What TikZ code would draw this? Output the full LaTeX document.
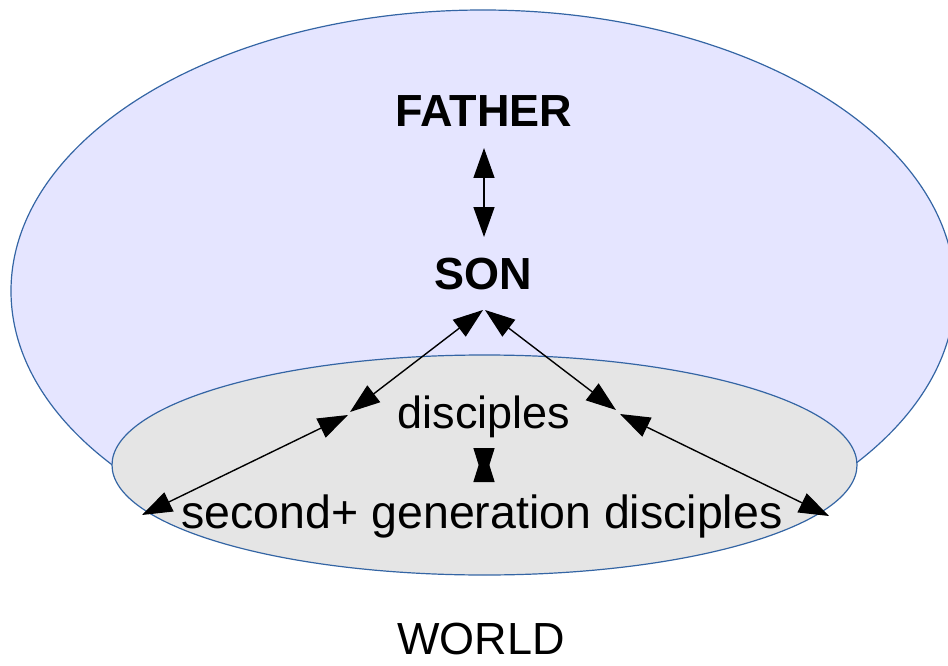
\documentclass[tikz,border=0pt]{standalone}
\usepackage{fontspec}
\setmainfont{Liberation Sans}
\usetikzlibrary{arrows.meta}
\definecolor{heaven}{HTML}{E5E5FF}
\definecolor{earth}{HTML}{E5E5E5}
\definecolor{rim}{HTML}{3465A4}
\begin{document}
\begin{tikzpicture}[x=1pt,y=-1pt,
  lbl/.style={inner sep=0pt, anchor=base, font=\fontsize{45}{54}\selectfont},
  boldlbl/.style={lbl, font=\fontsize{45}{54}\selectfont\bfseries},
  region/.style={draw=rim, line width=1.2pt},
  link/.style={line width=1.4pt, {Triangle[length=30pt,width=21pt]}-{Triangle[length=30pt,width=21pt]}},
  shortlink/.style={line width=1.4pt, {Triangle[length=34pt,width=21pt]}-{Triangle[length=34pt,width=21pt]}}]
\useasboundingbox (0,0) rectangle (948,666);
% regions
\path[region, fill=heaven] (483,291) ellipse [x radius=472pt, y radius=281pt];
\path[region, fill=earth] (484.5,465) ellipse [x radius=372.5pt, y radius=110pt];
% labels
\node[boldlbl] (father) at (484,127) {FATHER};
\node[boldlbl] (son) at (483,289) {SON};
\node[lbl] (disc) at (484,428) {disciples};
\node[lbl, font=\fontsize{46.5}{54}\selectfont] (gen) at (482,528) {second+ generation disciples};
\node[lbl] (world) at (481,654) {WORLD};
% connector ends
\coordinate (fS) at (484,148);
\coordinate (sF) at (484,237);
\coordinate (sL) at (483,310);
\coordinate (dL) at (350,412);
\coordinate (dL2) at (348,415);
\coordinate (gL) at (142,515);
\coordinate (sR) at (485,310);
\coordinate (dR) at (616,410);
\coordinate (dR2) at (620,414);
\coordinate (gR) at (829,516);
\coordinate (dD) at (484,448);
\coordinate (gU) at (484,482);
% connectors
\draw[link] (fS) -- (sF);
\draw[link] (sL) -- (dL);
\draw[link] (sR) -- (dR);
\draw[link] (dL2) -- (gL);
\draw[link] (dR2) -- (gR);
\draw[shortlink] (dD) -- (gU);
\end{tikzpicture}
\end{document}
